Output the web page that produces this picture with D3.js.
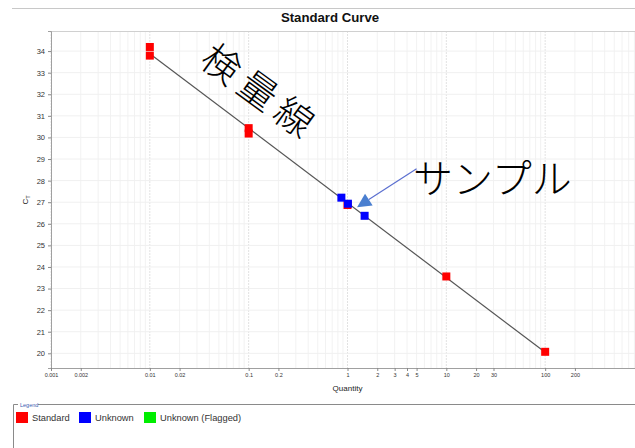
<!DOCTYPE html>
<html>
<head>
<meta charset="utf-8">
<script src="https://cdn.jsdelivr.net/npm/d3@7"></script>
<style>
  html, body { margin: 0; padding: 0; background: #fff; }
  svg { display: block; }
</style>
</head>
<body>
<svg id="chart" width="635" height="448"></svg>
<script>
// Standard curve: Ct versus log quantity
const standardQty = [0.01, 0.01, 0.1, 0.1, 1, 10, 100];
const standardCt  = [34.19, 33.79, 30.43, 30.18, 26.87, 23.56, 20.07];
const unknownQty  = [0.867, 1.01, 1.49];
const unknownCt   = [27.21, 26.93, 26.37];
const flaggedQty  = [];
const flaggedCt   = [];
// fitted regression line end points
const fitQty = [0.01, 100];
const fitCt  = [33.88, 20.05];

const yTicks = [20, 21, 22, 23, 24, 25, 26, 27, 28, 29, 30, 31, 32, 33, 34];
const xTickLabels = [0.001, 0.002, 0.01, 0.02, 0.1, 0.2, 1, 2, 3, 4, 5, 10, 20, 30, 100, 200];
const legendNames  = ["Standard", "Unknown", "Unknown (Flagged)"];
const legendColors = ["#ff0000", "#0000ff", "#00ee00"];

const svg = d3.select("#chart");
const plotL = 51, plotR = 644, plotT = 31, plotB = 368;
const font = "Liberation Sans, Arial, sans-serif";
const cjk = "'Noto Sans CJK JP', sans-serif";

const x = d3.scaleLog().domain([0.001, 1000]).range([plotL, plotR]);
const y = d3.scaleLinear().domain([19.32, 34.93]).range([plotB, plotT]);

// outer separator and title
svg.append("line").attr("x1", 12).attr("x2", 635).attr("y1", 8.5).attr("y2", 8.5)
  .attr("stroke", "#c8c8c8").attr("stroke-width", 1);
svg.append("text").attr("x", 330).attr("y", 22)
  .attr("text-anchor", "middle").attr("font-family", font)
  .attr("font-weight", "bold").attr("font-size", 13.2).attr("fill", "#111")
  .text("Standard Curve");

// grid
const grid = svg.append("g");
const minor = [];
for (let e = -3; e < 3; e++) for (let m = 1; m <= 9; m++) minor.push(m * Math.pow(10, e));
minor.push(1000);
const isDecade = d => Math.abs(Math.log10(d) - Math.round(Math.log10(d))) < 1e-9;
grid.selectAll("line.v").data(minor).join("line")
  .attr("x1", d => x(d)).attr("x2", d => x(d)).attr("y1", plotT).attr("y2", plotB)
  .attr("stroke", d => isDecade(d) ? "#e2e2e2" : "#f2f2f2")
  .attr("stroke-dasharray", d => isDecade(d) ? "2,1" : null)
  .attr("stroke-width", 1);
grid.selectAll("line.h").data(yTicks).join("line")
  .attr("x1", plotL).attr("x2", plotR).attr("y1", d => y(d)).attr("y2", d => y(d))
  .attr("stroke", "#f0f0f0").attr("stroke-width", 1);

// plot frame top
svg.append("line").attr("x1", plotL).attr("x2", 635).attr("y1", plotT + 0.5).attr("y2", plotT + 0.5)
  .attr("stroke", "#d0d0d0");

// axes
const yAxis = d3.axisLeft(y).tickValues(yTicks).tickSize(3).tickPadding(3);
const gy = svg.append("g").attr("transform", `translate(${plotL},0)`).call(yAxis);
gy.select(".domain").attr("stroke", "#a0a0a0");
gy.selectAll(".tick line").attr("stroke", "#888");
gy.selectAll("text").attr("font-family", font).attr("font-size", 7.5).attr("fill", "#333");

const xAxis = d3.axisBottom(x).tickValues(xTickLabels).tickFormat(d3.format("~g")).tickSize(3).tickPadding(2);
const gx = svg.append("g").attr("transform", `translate(0,${plotB})`).call(xAxis);
gx.select(".domain").attr("stroke", "#a0a0a0");
gx.selectAll(".tick line").attr("stroke", "#888");
gx.selectAll("text").attr("font-family", font).attr("font-size", 5.5).attr("fill", "#333");

// axis titles
svg.append("text").attr("x", (plotL + plotR) / 2).attr("y", 391)
  .attr("text-anchor", "middle").attr("font-family", font).attr("font-size", 8).attr("fill", "#222")
  .text("Quantity");
const ct = svg.append("text").attr("transform", "translate(28,200) rotate(-90)")
  .attr("text-anchor", "middle").attr("font-family", font).attr("font-size", 8).attr("fill", "#222");
ct.append("tspan").text("C");
ct.append("tspan").attr("font-size", 5.5).attr("dy", 1.5).text("T");

// regression line
svg.append("line")
  .attr("x1", x(fitQty[0])).attr("y1", y(fitCt[0]))
  .attr("x2", x(fitQty[1])).attr("y2", y(fitCt[1]))
  .attr("stroke", "#555").attr("stroke-width", 1.2);

// points
const ms = 8;
function drawPoints(qs, cs, color) {
  svg.append("g").selectAll("rect").data(qs.map((q, i) => [q, cs[i]])).join("rect")
    .attr("x", d => x(d[0]) - ms / 2).attr("y", d => y(d[1]) - ms / 2)
    .attr("width", ms).attr("height", ms).attr("fill", color);
}
drawPoints(standardQty, standardCt, legendColors[0]);
drawPoints(unknownQty, unknownCt, legendColors[1]);
drawPoints(flaggedQty, flaggedCt, legendColors[2]);

// annotations
svg.append("text")
  .attr("transform", "translate(198,64) rotate(36)")
  .attr("font-family", cjk).attr("font-weight", 300).attr("font-size", 38)
  .attr("letter-spacing", 7).attr("fill", "#000")
  .text("検量線");

svg.append("text").attr("x", 413).attr("y", 193)
  .attr("font-family", cjk).attr("font-weight", 300).attr("font-size", 40).attr("fill", "#000")
  .text("サンプル");

// arrow from the label toward the unknown samples
const tail = [x(5.0), y(28.55)];
const tip = [x(1.25), y(26.77)];
const dx = tip[0] - tail[0], dy = tip[1] - tail[1];
const len = Math.hypot(dx, dy), ux = dx / len, uy = dy / len;
const headL = 14, headW = 7;
const base = [tip[0] - ux * headL, tip[1] - uy * headL];
svg.append("line").attr("x1", tail[0]).attr("y1", tail[1]).attr("x2", base[0]).attr("y2", base[1])
  .attr("stroke", "#5b6fd0").attr("stroke-width", 1.2);
svg.append("polygon")
  .attr("points", [tip, [base[0] - uy * headW, base[1] + ux * headW], [base[0] + uy * headW, base[1] - ux * headW]]
    .map(p => p.join(",")).join(" "))
  .attr("fill", "#4a7fd0");

// legend box
const lg = svg.append("g");
lg.append("path").attr("d", "M13.5,448 V404.5 H18 M38,404.5 H635")
  .attr("fill", "none").attr("stroke", "#8a8a8a").attr("stroke-width", 1);
lg.append("text").attr("x", 20).attr("y", 406.5).attr("font-family", font)
  .attr("font-size", 5.5).attr("fill", "#3a5cb0").text("Legend");
const swX = [16, 79, 144];
legendNames.forEach((n, i) => {
  lg.append("rect").attr("x", swX[i]).attr("y", 412).attr("width", 12).attr("height", 11)
    .attr("fill", legendColors[i]);
  lg.append("text").attr("x", swX[i] + 16).attr("y", 421).attr("font-family", font)
    .attr("font-size", 9.3).attr("fill", "#333").text(n);
});
</script>
</body>
</html>
